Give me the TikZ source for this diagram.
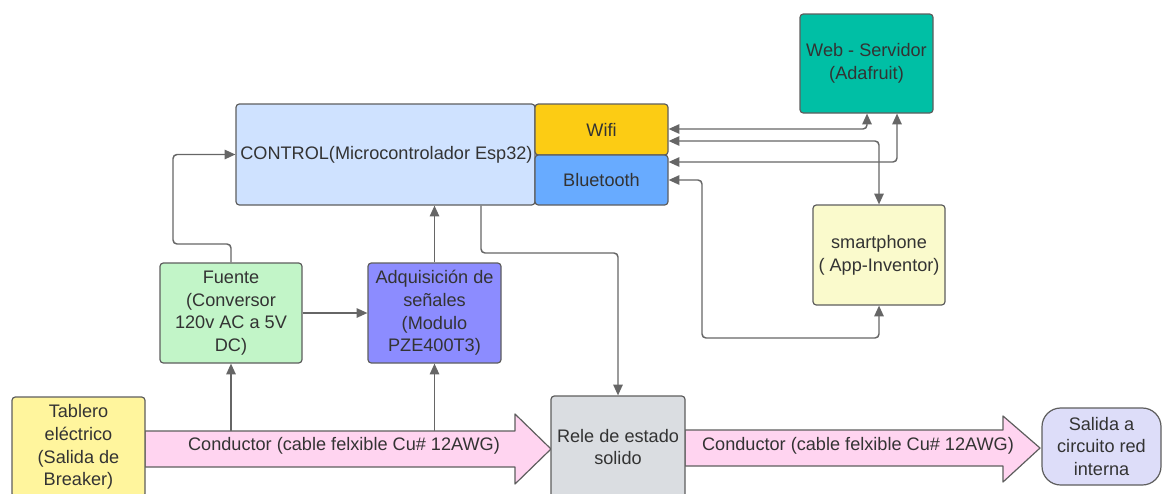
\documentclass[tikz,border=0pt]{standalone}
\usepackage{fontspec}
\setmainfont{Liberation Sans}
\usetikzlibrary{arrows.meta,calc}
\definecolor{bordergray}{HTML}{5E5E5E}
\definecolor{linegray}{HTML}{666666}
\definecolor{textgray}{HTML}{333333}
\definecolor{webteal}{HTML}{00BFA5}
\definecolor{ctrlblue}{HTML}{CFE2FF}
\definecolor{wifiyellow}{HTML}{FCCC14}
\definecolor{btblue}{HTML}{68ABFF}
\definecolor{smartyellow}{HTML}{FAFACC}
\definecolor{fuentegreen}{HTML}{C2F5C8}
\definecolor{adqpurple}{HTML}{8C8CFF}
\definecolor{tabyellow}{HTML}{FFF59D}
\definecolor{relegray}{HTML}{DADDE1}
\definecolor{salidalav}{HTML}{DDDDF9}
\definecolor{pinkfill}{HTML}{FFD4F0}
\begin{document}
\begin{tikzpicture}[x=0.75pt,y=-0.75pt,
  box/.style={draw=bordergray, line width=0.9pt, rounded corners=2.5pt, align=center,
    font=\fontsize{13.6}{17}\selectfont, text=textgray, inner sep=0.5pt},
  conn/.style={draw=linegray, line width=1.1pt, rounded corners=3pt},
  tipend/.style={-{Triangle[length=8pt,width=7pt]}},
  tipboth/.style={{Triangle[length=8pt,width=7pt]}-{Triangle[length=8pt,width=7pt]}},
  bigarrow/.style={draw=bordergray, line width=0.9pt, fill=pinkfill, line join=round},
  arrowtext/.style={font=\fontsize{13.6}{17}\selectfont, text=textgray, inner sep=0pt}]
\useasboundingbox (0,0) rectangle (1163,493);
\clip (0,0) rectangle (1163,493);

% pink power arrows
\draw[bigarrow] (145,431) -- (515,431) -- (515,414) -- (551,449) -- (515,484) -- (515,467) -- (145,467) -- cycle;
\node[arrowtext] (cond1) at (344,446) {Conductor (cable felxible Cu\# 12AWG)};
\draw[bigarrow] (685,430) -- (1003,430) -- (1003,416) -- (1040,448) -- (1003,482) -- (1003,466) -- (685,466) -- cycle;
\node[arrowtext] (cond2) at (858,446) {Conductor (cable felxible Cu\# 12AWG)};
\coordinate (tap1) at (231,431);
\coordinate (tap2) at (434.5,431);

% boxes
\node[box, fill=webteal, minimum width=99.75pt, minimum height=74.25pt] (web) at (866.5,63.5) {Web - Servidor\\(Adafruit)};
\node[box, fill=ctrlblue, minimum width=224.25pt, minimum height=75.75pt,
  label={[anchor=west, inner sep=0pt, font=\fontsize{13.6}{17}\selectfont, text=textgray, xshift=3.5pt]west:CONTROL(Microcontrolador Esp32)}] (ctrl) at (385.5,154.5) {};
\node[box, fill=wifiyellow, minimum width=99.75pt, minimum height=38.25pt] (wifi) at (601.5,129.5) {Wifi};
\node[box, fill=btblue, minimum width=99.75pt, minimum height=37.5pt] (bt) at (601.5,180) {Bluetooth};
\node[box, fill=smartyellow, minimum width=99pt, minimum height=75pt] (smart) at (879,255) {smartphone\\( App-Inventor)};
\node[box, fill=fuentegreen, minimum width=106.5pt, minimum height=75pt] (fuente) at (231,313) {Fuente\\(Conversor\\120v AC a 5V\\DC)};
\node[box, fill=adqpurple, minimum width=99.75pt, minimum height=75pt] (adq) at (434.5,313) {Adquisición de\\señales\\(Modulo\\PZE400T3)};
\node[box, fill=tabyellow, minimum width=99.75pt, minimum height=75pt] (tab) at (78.5,447) {Tablero\\eléctrico\\(Salida de\\Breaker)};
\node[box, fill=relegray, minimum width=100.5pt, minimum height=76.5pt] (rele) at (618,447) {Rele de estado\\solido};
\node[box, fill=salidalav, minimum width=89.25pt, minimum height=57.75pt, rounded corners=14pt] (salida) at (1101.5,446.5) {Salida a\\circuito red\\interna};

% connectors
\draw[conn,tipend] (fuente.north) -- (231,244) -- (173,244) -- (173,154.5) -- (ctrl.west);
\draw[conn,tipend] (fuente.east) -- (adq.west);
\draw[conn,tipend] (adq.north) -- (ctrl.south -| adq.north);
\draw[conn,tipend] (ctrl.south -| 481,0) -- (481,253) -- (618,253) -- (rele.north);
\draw[conn,tipend] (tap1) -- (fuente.south);
\draw[conn,tipend] (tap2) -- (adq.south);

\draw[conn,tipboth] (wifi.east |- 0,129) -- (867,129) -- (web.south -| 867,0);
\draw[conn,tipboth] (wifi.east |- 0,141) -- (879,141) -- (smart.north);
\draw[conn,tipboth] (bt.east |- 0,162) -- (897,162) -- (web.south -| 897,0);
\draw[conn,tipboth] (bt.east |- 0,180) -- (702,180) -- (702,338) -- (879,338) -- (smart.south);
\end{tikzpicture}
\end{document}
